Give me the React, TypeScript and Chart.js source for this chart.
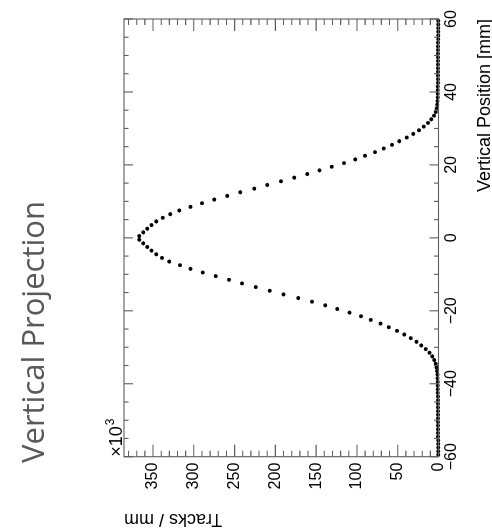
import React, { useEffect, useRef } from "react";
import { Chart, registerables } from "chart.js";

Chart.register(...registerables);

// Bin centres [mm] of the vertical projection histogram (1 mm bins)
const POSITIONS = [
  -59.5, -58.5, -57.5, -56.5, -55.5, -54.5, -53.5, -52.5, -51.5, -50.5,
  -49.5, -48.5, -47.5, -46.5, -45.5, -44.5, -43.5, -42.5, -41.5, -40.5,
  -39.5, -38.5, -37.5, -36.5, -35.5, -34.5, -33.5, -32.5, -31.5, -30.5,
  -29.5, -28.5, -27.5, -26.5, -25.5, -24.5, -23.5, -22.5, -21.5, -20.5,
  -19.5, -18.5, -17.5, -16.5, -15.5, -14.5, -13.5, -12.5, -11.5, -10.5,
  -9.5, -8.5, -7.5, -6.5, -5.5, -4.5, -3.5, -2.5, -1.5, -0.5,
  0.5, 1.5, 2.5, 3.5, 4.5, 5.5, 6.5, 7.5, 8.5, 9.5,
  10.5, 11.5, 12.5, 13.5, 14.5, 15.5, 16.5, 17.5, 18.5, 19.5,
  20.5, 21.5, 22.5, 23.5, 24.5, 25.5, 26.5, 27.5, 28.5, 29.5,
  30.5, 31.5, 32.5, 33.5, 34.5, 35.5, 36.5, 37.5, 38.5, 39.5,
  40.5, 41.5, 42.5, 43.5, 44.5, 45.5, 46.5, 47.5, 48.5, 49.5,
  50.5, 51.5, 52.5, 53.5, 54.5, 55.5, 56.5, 57.5, 58.5, 59.5,
];

// Tracks / mm (x10^3)
const TRACKS = [
  0.4, 0.4, 0.4, 0.4, 0.4, 0.5, 0.5, 0.5, 0.5, 0.5,
  0.5, 0.6, 0.6, 0.6, 0.6, 0.7, 0.7, 0.8, 0.8, 0.9,
  1.0, 1.1, 1.3, 1.7, 2.4, 3.5, 5.2, 7.6, 11, 15.5,
  21, 27, 34, 42, 51, 61, 71, 83, 95, 109,
  124, 139, 155, 172, 190, 207, 224, 241, 257, 273,
  289, 304, 317, 330, 339, 346, 352, 357, 362, 367,
  367, 362, 357, 352, 346, 338, 329, 318, 304, 290,
  275, 259, 243, 226, 210, 193, 177, 161, 146, 131,
  116, 102, 90, 78, 67, 57, 48, 39, 31, 24,
  18, 13, 9, 5.6, 3.4, 2.1, 1.5, 1.2, 1.0, 0.9,
  0.8, 0.8, 0.7, 0.7, 0.6, 0.6, 0.6, 0.6, 0.5, 0.5,
  0.5, 0.5, 0.5, 0.5, 0.4, 0.4, 0.4, 0.4, 0.4, 0.4,
];

const X_TICKS = [-60, -40, -20, 0, 20, 40, 60];
const Y_TICKS = [0, 50, 100, 150, 200, 250, 300, 350];
const X_MIN = -60;
const X_MAX = 60;
const Y_MAX = 385.6;

const TITLE = "Vertical Projection";
const X_TITLE = "Vertical Position [mm]";
const Y_TITLE = "Tracks / mm";
const Y_MULT = "\u00d710";
const Y_EXP = "3";

const W = 528;
const H = 492;
const AXIS_FONT = '"Liberation Sans", Arial, sans-serif';

const fmt = (v: number) => (v < 0 ? "\u2212" + Math.abs(v) : String(v));

export default function App() {
  const ref = useRef<HTMLCanvasElement>(null);

  useEffect(() => {
    const canvas = ref.current;
    if (!canvas) return;

    const decor = {
      id: "decor",
      afterDatasetsDraw(chart: any) {
        const ctx = chart.ctx;
        const a = chart.chartArea;
        const xs = chart.scales.x;
        const ys = chart.scales.y;
        ctx.save();
        ctx.strokeStyle = "#5e5e5e";
        ctx.lineWidth = 1.1;
        ctx.strokeRect(a.left, a.top, a.right - a.left, a.bottom - a.top);
        ctx.beginPath();
        for (let v = 0; v <= Y_MAX; v += 10) {
          const p = ys.getPixelForValue(v);
          const len = v % 50 === 0 ? 12 : 6;
          ctx.moveTo(a.left, p);
          ctx.lineTo(a.left + len, p);
          ctx.moveTo(a.right, p);
          ctx.lineTo(a.right - len, p);
        }
        for (let v = X_MIN; v <= X_MAX; v += 5) {
          const p = xs.getPixelForValue(v);
          const len = v % 20 === 0 ? 9 : 4.5;
          ctx.moveTo(p, a.bottom);
          ctx.lineTo(p, a.bottom - len);
          ctx.moveTo(p, a.top);
          ctx.lineTo(p, a.top + len);
        }
        ctx.stroke();
        ctx.restore();
      },
      afterDraw(chart: any) {
        const ctx = chart.ctx;
        const a = chart.chartArea;
        ctx.save();
        // main title
        ctx.fillStyle = "#595959";
        ctx.font = '31px "Open Sans", sans-serif';
        ctx.textAlign = "left";
        ctx.textBaseline = "alphabetic";
        ctx.fillText(TITLE, 65, 44);
        // multiplier
        ctx.fillStyle = "#000";
        ctx.font = "18px " + AXIS_FONT;
        ctx.fillText(Y_MULT, a.left, a.top - 2);
        const mw = ctx.measureText(Y_MULT).width;
        ctx.font = "12px " + AXIS_FONT;
        ctx.fillText(Y_EXP, a.left + mw + 1, a.top - 10);
        // x title
        ctx.font = "18px " + AXIS_FONT;
        ctx.textAlign = "right";
        ctx.fillText(X_TITLE, a.right, 490);
        // y title
        ctx.translate(14, a.top);
        ctx.rotate(-Math.PI / 2);
        ctx.textAlign = "right";
        ctx.fillText(Y_TITLE, 0, 0);
        ctx.restore();
      },
    };

    const chart = new Chart(canvas, {
      type: "scatter",
      data: {
        datasets: [
          {
            data: POSITIONS.map((x, i) => ({ x, y: TRACKS[i] })),
            backgroundColor: "#000",
            borderWidth: 0,
            pointRadius: 2,
            pointHoverRadius: 2,
            clip: false as any,
          },
        ],
      },
      options: {
        responsive: false,
        animation: false,
        devicePixelRatio: 1,
        events: [],
        layout: { padding: { top: 124, right: 19, left: 0, bottom: 0 } },
        plugins: {
          legend: { display: false },
          tooltip: { enabled: false },
          title: { display: false },
        },
        scales: {
          x: {
            type: "linear",
            min: X_MIN,
            max: X_MAX,
            afterFit: (s: any) => {
              s.height = 53.5;
            },
            afterBuildTicks: (s: any) => {
              s.ticks = X_TICKS.map((value) => ({ value }));
            },
            grid: { display: false, drawTicks: false },
            border: { display: false },
            ticks: {
              padding: 3,
              autoSkip: false,
              maxRotation: 0,
              color: "#000",
              font: { family: AXIS_FONT, size: 16 },
              callback: (v: any) => fmt(Number(v)),
            },
          },
          y: {
            type: "linear",
            min: 0,
            max: Y_MAX,
            afterFit: (s: any) => {
              s.width = 71.3;
            },
            afterBuildTicks: (s: any) => {
              s.ticks = Y_TICKS.map((value) => ({ value }));
            },
            grid: { display: false, drawTicks: false },
            border: { display: false },
            ticks: {
              padding: 6,
              autoSkip: false,
              color: "#000",
              font: { family: AXIS_FONT, size: 16 },
              callback: (v: any) => fmt(Number(v)),
            },
          },
        },
      } as any,
      plugins: [decor],
    });

    return () => chart.destroy();
  }, []);

  return (
    <div
      style={{
        position: "fixed",
        left: 0,
        top: 0,
        width: 492,
        height: 528,
        overflow: "hidden",
        background: "#fff",
      }}
    >
      <canvas
        ref={ref}
        width={W}
        height={H}
        style={{
          position: "absolute",
          left: 0,
          top: 0,
          width: W,
          height: H,
          transformOrigin: "0 0",
          transform: `translate(0px, ${W}px) rotate(-90deg)`,
        }}
      />
    </div>
  );
}
